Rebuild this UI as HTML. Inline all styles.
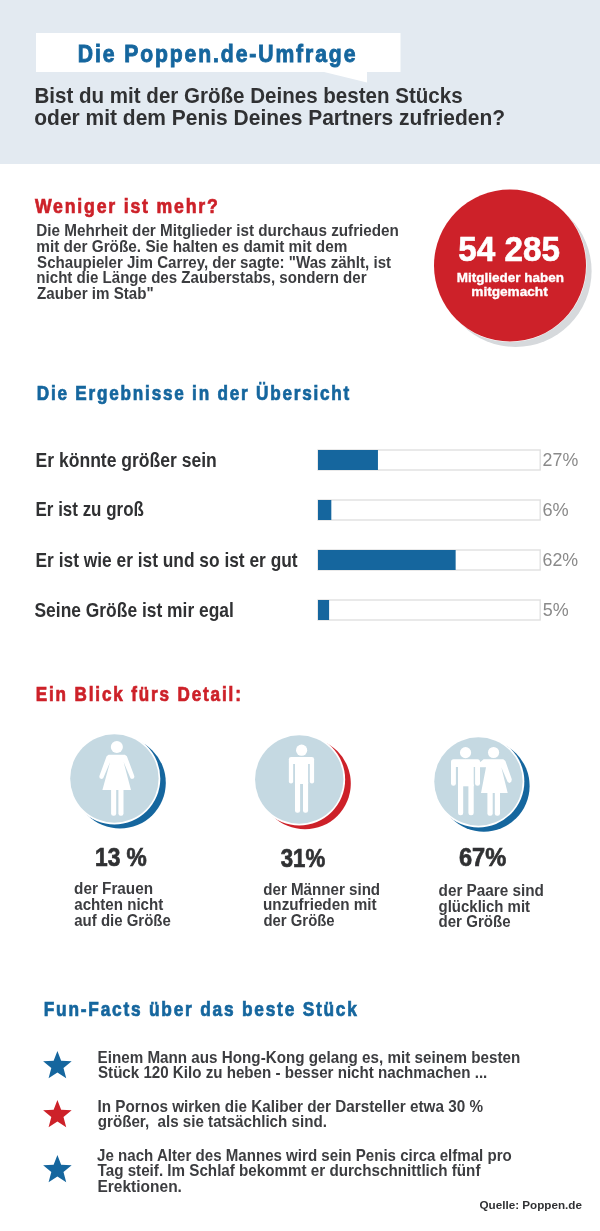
<!DOCTYPE html>
<html lang="de"><head><meta charset="utf-8"><title>Die Poppen.de-Umfrage</title>
<style>
html,body{margin:0;padding:0;background:#fff;width:600px;height:1231px;overflow:hidden}
svg{display:block}
text{font-family:"Liberation Sans", Arial, sans-serif;}
</style></head><body>
<svg width="600" height="1231" viewBox="0 0 600 1231">
<rect x="0" y="0" width="600" height="164" fill="#e3eaf1"/>
<rect x="36" y="33" width="364.5" height="39" fill="#ffffff"/>
<polygon points="322,71.5 367,71.5 367,82.5" fill="#ffffff"/>
<circle cx="515.6" cy="271" r="76" fill="#d6d9dc"/>
<circle cx="510" cy="265.5" r="76.5" fill="#ffffff"/>
<circle cx="510" cy="265.5" r="76" fill="#cd2129"/>
<rect x="318" y="450" width="222.2" height="20" fill="#fff" stroke="#dedede" stroke-width="1.3"/>
<rect x="318" y="450" width="59.94" height="20" fill="#15669e"/>
<rect x="318" y="500" width="222.2" height="20" fill="#fff" stroke="#dedede" stroke-width="1.3"/>
<rect x="318" y="500" width="13.32" height="20" fill="#15669e"/>
<rect x="318" y="550" width="222.2" height="20" fill="#fff" stroke="#dedede" stroke-width="1.3"/>
<rect x="318" y="550" width="137.64" height="20" fill="#15669e"/>
<rect x="318" y="600" width="222.2" height="20" fill="#fff" stroke="#dedede" stroke-width="1.3"/>
<rect x="318" y="600" width="11.10" height="20" fill="#15669e"/>
<circle cx="120" cy="782.8" r="45.8" fill="#15669e"/>
<circle cx="114.4" cy="778.5" r="45.9" fill="#ffffff"/>
<circle cx="114.4" cy="778.5" r="44.2" fill="#c5d9e2"/>
<circle cx="305" cy="783.5" r="45.8" fill="#cd2129"/>
<circle cx="299.25" cy="779.5" r="45.9" fill="#ffffff"/>
<circle cx="299.25" cy="779.5" r="44.2" fill="#c5d9e2"/>
<circle cx="483.8" cy="785.9" r="45.8" fill="#15669e"/>
<circle cx="478.45" cy="781.5" r="45.9" fill="#ffffff"/>
<circle cx="478.45" cy="781.5" r="44.2" fill="#c5d9e2"/>
<circle cx="116.85" cy="747.00" r="6.05" fill="#ffffff"/><polygon points="108.60,754.80 124.90,754.80 126.90,756.30 134.40,776.20 134.00,778.30 131.90,779.00 130.50,778.20 123.60,762.10 131.00,790.10 102.40,790.10 110.10,762.10 103.20,778.20 101.80,779.00 99.70,778.30 99.30,776.20 106.60,756.30" fill="#ffffff"/><rect x="111.10" y="786.00" width="5.10" height="29.70" rx="2.2" fill="#ffffff"/><rect x="118.40" y="786.00" width="5.10" height="29.70" rx="2.2" fill="#ffffff"/><circle cx="301.60" cy="750.20" r="5.6" fill="#ffffff"/><rect x="288.85" y="757.10" width="25.25" height="7.00" rx="2.2" fill="#ffffff"/><rect x="288.85" y="760.00" width="4.30" height="23.50" rx="2.1" fill="#ffffff"/><rect x="309.80" y="760.00" width="4.30" height="23.50" rx="2.1" fill="#ffffff"/><rect x="295" y="760" width="13.1" height="24" fill="#ffffff"/><rect x="295.00" y="780.00" width="5.10" height="32.80" rx="2.2" fill="#ffffff"/><rect x="303.00" y="780.00" width="5.10" height="32.80" rx="2.2" fill="#ffffff"/><circle cx="465.55" cy="752.65" r="5.6" fill="#ffffff"/><rect x="451.00" y="759.30" width="29.00" height="7.70" rx="2.5" fill="#ffffff"/><rect x="451.00" y="762.00" width="4.90" height="23.70" rx="2.3" fill="#ffffff"/><rect x="475.10" y="762.00" width="4.90" height="23.70" rx="2.3" fill="#ffffff"/><rect x="458" y="762" width="15.7" height="24.3" fill="#ffffff"/><rect x="458.00" y="783.00" width="5.20" height="32.30" rx="2.3" fill="#ffffff"/><rect x="468.40" y="783.00" width="5.30" height="32.30" rx="2.3" fill="#ffffff"/><circle cx="493.55" cy="752.50" r="5.6" fill="#ffffff"/><polygon points="483.60,759.30 503.30,759.30 505.40,761.00 511.80,779.30 511.30,781.80 509.50,782.90 507.70,782.00 501.30,767.30 507.70,793.00 481.00,793.00 486.00,767.30 478.00,767.30 478.00,763.50 481.30,761.20" fill="#ffffff"/><rect x="487.40" y="790.00" width="5.30" height="25.70" rx="2.3" fill="#ffffff"/><rect x="494.80" y="790.00" width="5.20" height="25.70" rx="2.3" fill="#ffffff"/>
<polygon points="57.40,1051.00 61.16,1060.82 71.67,1061.36 63.49,1067.98 66.22,1078.14 57.40,1072.40 48.58,1078.14 51.31,1067.98 43.13,1061.36 53.64,1060.82" fill="#15669e"/>
<polygon points="57.40,1100.00 61.16,1109.82 71.67,1110.36 63.49,1116.98 66.22,1127.14 57.40,1121.40 48.58,1127.14 51.31,1116.98 43.13,1110.36 53.64,1109.82" fill="#cd2129"/>
<polygon points="57.40,1155.00 61.16,1164.82 71.67,1165.36 63.49,1171.98 66.22,1182.14 57.40,1176.40 48.58,1182.14 51.31,1171.98 43.13,1165.36 53.64,1164.82" fill="#15669e"/>
<text transform="translate(77.80 61.80) scale(0.8598 1)" font-size="24.6" font-weight="bold" fill="#15669e" stroke="#15669e" stroke-width="0.9" letter-spacing="2.204">Die Poppen.de-Umfrage</text>
<text transform="translate(34.50 103.40) scale(0.9176 1)" font-size="22.4" font-weight="bold" fill="#303133">Bist du mit der Größe Deines besten Stücks</text>
<text transform="translate(34.30 125.30) scale(0.9370 1)" font-size="22.4" font-weight="bold" fill="#303133">oder mit dem Penis Deines Partners zufrieden?</text>
<text transform="translate(34.90 213.00) scale(0.8593 1)" font-size="20.6" font-weight="bold" fill="#cd2129" stroke="#cd2129" stroke-width="0.7" letter-spacing="2.102">Weniger ist mehr?</text>
<text transform="translate(36.35 235.80) scale(0.9660 1)" font-size="15.8" font-weight="bold" fill="#3c3d40">Die Mehrheit der Mitglieder ist durchaus zufrieden</text>
<text transform="translate(36.35 251.65) scale(0.9709 1)" font-size="15.8" font-weight="bold" fill="#3c3d40">mit der Größe. Sie halten es damit mit dem</text>
<text transform="translate(37.10 267.50) scale(0.9571 1)" font-size="15.8" font-weight="bold" fill="#3c3d40">Schaupieler Jim Carrey, der sagte: &quot;Was zählt, ist</text>
<text transform="translate(36.35 283.35) scale(0.9553 1)" font-size="15.8" font-weight="bold" fill="#3c3d40">nicht die Länge des Zauberstabs, sondern der</text>
<text transform="translate(37.10 299.20) scale(0.9603 1)" font-size="15.8" font-weight="bold" fill="#3c3d40">Zauber im Stab&quot;</text>
<text transform="translate(458.25 261.00) scale(0.9296 1)" font-size="35.8" font-weight="bold" fill="#ffffff" stroke="#ffffff" stroke-width="0.7">54 285</text>
<text transform="translate(456.85 282.30) scale(1.0223 1)" font-size="13.2" font-weight="bold" fill="#ffffff" stroke="#ffffff" stroke-width="0.35">Mitglieder haben</text>
<text transform="translate(471.26 295.80) scale(1.0335 1)" font-size="13.2" font-weight="bold" fill="#ffffff" stroke="#ffffff" stroke-width="0.35">mitgemacht</text>
<text transform="translate(36.80 399.50) scale(0.8614 1)" font-size="19.9" font-weight="bold" fill="#15669e" stroke="#15669e" stroke-width="0.7" letter-spacing="2.072">Die Ergebnisse in der Übersicht</text>
<text transform="translate(35.55 466.80) scale(0.8953 1)" font-size="19.6" font-weight="bold" fill="#303133">Er könnte größer sein</text>
<text transform="translate(35.55 516.20) scale(0.8655 1)" font-size="19.6" font-weight="bold" fill="#303133">Er ist zu groß</text>
<text transform="translate(35.55 566.80) scale(0.8851 1)" font-size="19.6" font-weight="bold" fill="#303133">Er ist wie er ist und so ist er gut</text>
<text transform="translate(34.50 616.50) scale(0.8890 1)" font-size="19.6" font-weight="bold" fill="#303133">Seine Größe ist mir egal</text>
<text transform="translate(542.60 466.00) scale(0.9619 1)" font-size="18.5" font-weight="normal" fill="#8a8a8a">27%</text>
<text transform="translate(542.50 516.00) scale(0.9822 1)" font-size="18.5" font-weight="normal" fill="#8a8a8a">6%</text>
<text transform="translate(542.51 566.00) scale(0.9634 1)" font-size="18.5" font-weight="normal" fill="#8a8a8a">62%</text>
<text transform="translate(542.75 616.00) scale(0.9716 1)" font-size="18.5" font-weight="normal" fill="#8a8a8a">5%</text>
<text transform="translate(35.75 700.50) scale(0.8600 1)" font-size="19.9" font-weight="bold" fill="#cd2129" stroke="#cd2129" stroke-width="0.7" letter-spacing="2.154">Ein Blick fürs Detail:</text>
<text transform="translate(95.00 866.00) scale(0.9103 1)" font-size="25" font-weight="bold" fill="#303133" stroke="#303133" stroke-width="0.7">13 %</text>
<text transform="translate(280.75 866.80) scale(0.8884 1)" font-size="25" font-weight="bold" fill="#303133" stroke="#303133" stroke-width="0.7">31%</text>
<text transform="translate(459.00 866.00) scale(0.9437 1)" font-size="25" font-weight="bold" fill="#303133" stroke="#303133" stroke-width="0.7">67%</text>
<text transform="translate(74.05 893.80) scale(0.9560 1)" font-size="16" font-weight="bold" fill="#3c3d40">der Frauen</text>
<text transform="translate(74.30 909.70) scale(0.9448 1)" font-size="16" font-weight="bold" fill="#3c3d40">achten nicht</text>
<text transform="translate(74.30 925.60) scale(0.9355 1)" font-size="16" font-weight="bold" fill="#3c3d40">auf die Größe</text>
<text transform="translate(263.25 894.50) scale(0.9467 1)" font-size="16" font-weight="bold" fill="#3c3d40">der Männer sind</text>
<text transform="translate(263.00 910.40) scale(0.9556 1)" font-size="16" font-weight="bold" fill="#3c3d40">unzufrieden mit</text>
<text transform="translate(263.50 926.30) scale(0.9309 1)" font-size="16" font-weight="bold" fill="#3c3d40">der Größe</text>
<text transform="translate(438.55 895.60) scale(0.9558 1)" font-size="16" font-weight="bold" fill="#3c3d40">der Paare sind</text>
<text transform="translate(438.55 911.50) scale(0.9361 1)" font-size="16" font-weight="bold" fill="#3c3d40">glücklich mit</text>
<text transform="translate(438.54 927.40) scale(0.9428 1)" font-size="16" font-weight="bold" fill="#3c3d40">der Größe</text>
<text transform="translate(43.75 1016.00) scale(0.8606 1)" font-size="20.1" font-weight="bold" fill="#15669e" stroke="#15669e" stroke-width="0.7" letter-spacing="2.071">Fun-Facts über das beste Stück</text>
<text transform="translate(97.50 1062.50) scale(0.9699 1)" font-size="15.7" font-weight="bold" fill="#3c3d40">Einem Mann aus Hong-Kong gelang es, mit seinem besten</text>
<text transform="translate(98.00 1078.00) scale(0.9651 1)" font-size="15.7" font-weight="bold" fill="#3c3d40">Stück 120 Kilo zu heben - besser nicht nachmachen ...</text>
<text transform="translate(97.50 1111.50) scale(0.9741 1)" font-size="15.7" font-weight="bold" fill="#3c3d40">In Pornos wirken die Kaliber der Darsteller etwa 30 %</text>
<text transform="translate(97.74 1127.20) scale(0.9665 1)" font-size="15.7" font-weight="bold" fill="#3c3d40" style="white-space:pre">größer,  als sie tatsächlich sind.</text>
<text transform="translate(97.10 1160.50) scale(0.9625 1)" font-size="15.7" font-weight="bold" fill="#3c3d40">Je nach Alter des Mannes wird sein Penis circa elfmal pro</text>
<text transform="translate(97.55 1176.00) scale(0.9687 1)" font-size="15.7" font-weight="bold" fill="#3c3d40">Tag steif. Im Schlaf bekommt er durchschnittlich fünf</text>
<text transform="translate(97.50 1191.80) scale(0.9885 1)" font-size="15.7" font-weight="bold" fill="#3c3d40">Erektionen.</text>
<text transform="translate(479.50 1209.00) scale(1.0163 1)" font-size="11.5" font-weight="bold" fill="#303133">Quelle: Poppen.de</text>
</svg>
</body></html>
